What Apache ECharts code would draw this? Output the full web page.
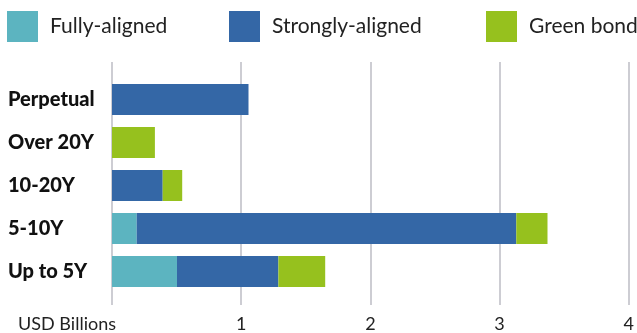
<!DOCTYPE html>
<html>
<head>
<meta charset="utf-8">
<script src="https://cdn.jsdelivr.net/npm/echarts@6/dist/echarts.min.js"></script>
<style>
  html, body { margin: 0; padding: 0; background: #fff; }
  #chart { width: 637px; height: 333px; }
</style>
</head>
<body>
<div id="chart"></div>
<script>
// maturity buckets, top to bottom
const categories = ['Perpetual', 'Over 20Y', '10-20Y', '5-10Y', 'Up to 5Y'];
// USD billions
const fullyAligned = [0, 0, 0, 0.19, 0.50];
const stronglyAligned = [1.05, 0, 0.39, 2.92, 0.78];
const greenBond = [0, 0.33, 0.15, 0.24, 0.36];
const xTicks = [0, 1, 2, 3, 4];

const seriesNames = ['Fully-aligned', 'Strongly-aligned', 'Green bond'];
const colors = ['#5cb4c0', '#3467a6', '#96c11e'];
const font = 'Lato';

const chart = echarts.init(document.getElementById('chart'), null, { renderer: 'canvas' });

const legendAt = [7, 229, 486];
const legends = seriesNames.map((name, i) => ({
    data: [name],
    left: legendAt[i],
    top: 11,
    padding: 0,
    itemWidth: 31,
    itemHeight: 31,
    itemGap: 0,
    icon: 'rect',
    selectedMode: false,
    textStyle: {
        fontFamily: font,
        fontSize: 21,
        color: '#222',
        padding: [0, 0, 0, 7]
    }
}));

const bars = [fullyAligned, stronglyAligned, greenBond].map((values, i) => ({
    name: seriesNames[i],
    type: 'bar',
    stack: 'total',
    xAxisIndex: 1,
    yAxisIndex: 1,
    barWidth: 31,
    itemStyle: { color: colors[i] },
    data: values
}));

chart.setOption({
    animation: false,
    legend: legends,
    grid: [
        { left: 112, right: 5, top: 62, bottom: 28 },
        { left: 112, right: 5, top: 78, height: 215 }
    ],
    xAxis: [
        {
            gridIndex: 0,
            type: 'value',
            min: xTicks[0],
            max: xTicks[xTicks.length - 1],
            interval: 1,
            name: 'USD Billions',
            nameLocation: 'start',
            nameGap: -4,
            nameTextStyle: {
                fontFamily: font,
                fontSize: 18,
                color: '#222',
                verticalAlign: 'top',
                padding: [10, 0, 0, 0]
            },
            axisLine: { show: false },
            axisTick: { show: false },
            axisLabel: {
                margin: 10,
                fontFamily: font,
                fontSize: 18,
                color: '#222',
                formatter: v => (v === 0 ? '' : String(v))
            },
            splitLine: { show: true, lineStyle: { color: '#bcbcc4', width: 1.5 } }
        },
        {
            gridIndex: 1,
            type: 'value',
            min: xTicks[0],
            max: xTicks[xTicks.length - 1],
            show: false
        }
    ],
    yAxis: [
        { gridIndex: 0, type: 'value', show: false },
        {
            gridIndex: 1,
            type: 'category',
            inverse: true,
            data: categories,
            axisLine: { show: false },
            axisTick: { show: false },
            axisLabel: {
                align: 'left',
                margin: 104,
                fontFamily: font,
                fontSize: 20,
                fontWeight: 900,
                color: '#111'
            }
        }
    ],
    series: bars
});
</script>
</body>
</html>
